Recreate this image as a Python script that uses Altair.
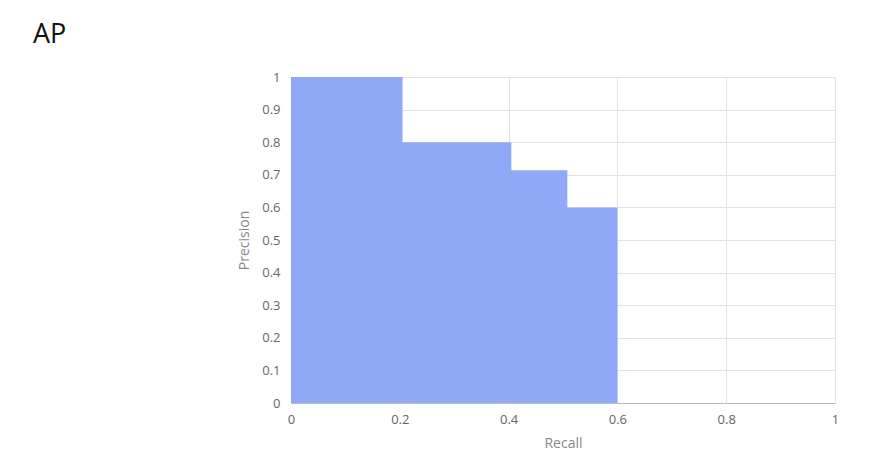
import altair as alt
import pandas as pd

recall = [0.0, 0.205, 0.405, 0.508, 0.6]
precision = [1.0, 0.8, 0.714, 0.6, 0.6]

df = pd.DataFrame({"Recall": recall, "Precision": precision})

x_ticks = [0, 0.2, 0.4, 0.6, 0.8, 1]
y_ticks = [0, 0.1, 0.2, 0.3, 0.4, 0.5, 0.6, 0.7, 0.8, 0.9, 1]

FONT = "Open Sans"

chart = alt.Chart(df).mark_area(
    interpolate="step-after", color="#8fa8f8", opacity=1
).encode(
    x=alt.X("Recall:Q", scale=alt.Scale(domain=[0, 1], nice=False),
            axis=alt.Axis(values=x_ticks, format="~g", title="Recall",
                          labelFontSize=13, labelColor="#666", labelPadding=10,
                          labelFlush=False,
                          titleFontSize=14, titleColor="#888", titleFontWeight="normal",
                          titlePadding=10, ticks=False, domainColor="#bbb",
                          gridColor="#e2e2e2", labelFont=FONT, titleFont=FONT)),
    y=alt.Y("Precision:Q", scale=alt.Scale(domain=[0, 1], nice=False),
            axis=alt.Axis(values=y_ticks, format="~g", title="Precision",
                          labelFontSize=13, labelColor="#666", labelPadding=11,
                          titleFontSize=14, titleColor="#888", titleFontWeight="normal",
                          titlePadding=10, ticks=False, domain=False,
                          gridColor="#e2e2e2", labelFont=FONT, titleFont=FONT)),
).properties(
    width=544,
    height=326,
    padding={"left": 283, "top": 69, "right": 31, "bottom": 53},
    autosize=alt.AutoSizeParams(type="none"),
    title=alt.TitleParams("AP", anchor="start", frame="group", dx=-258,
                          fontSize=27, fontWeight="normal", color="#111",
                          font=FONT, offset=22),
).configure_view(stroke="#e2e2e2")

chart.save("out.html", embed_options={"renderer": "svg", "actions": False})
